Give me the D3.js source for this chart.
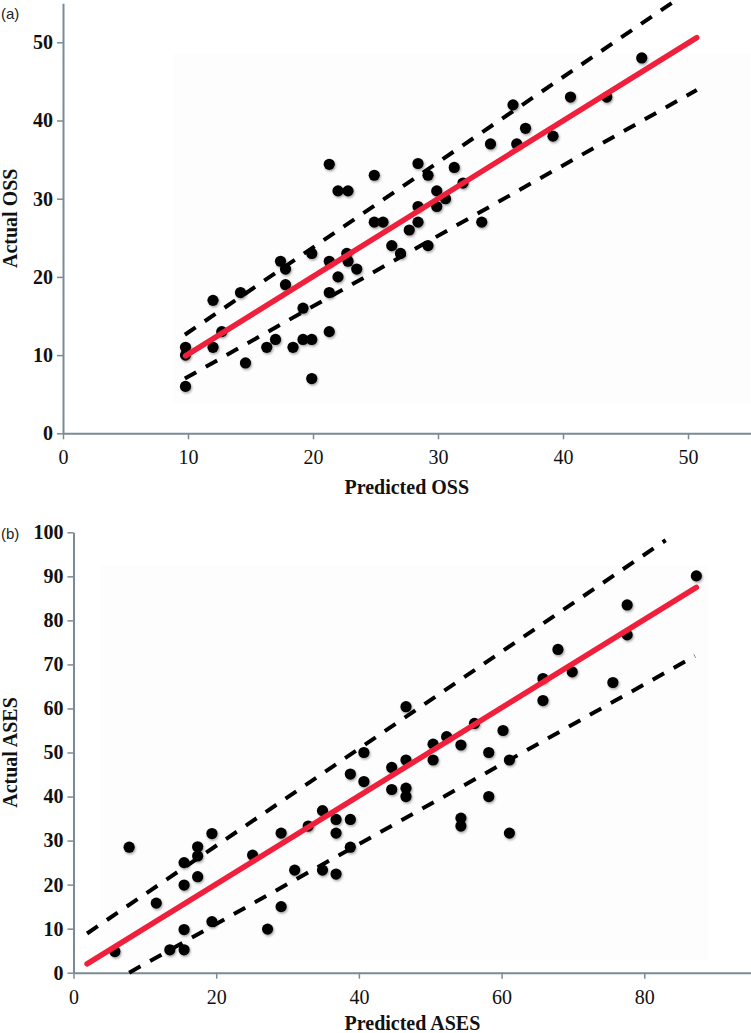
<!DOCTYPE html>
<html>
<head>
<meta charset="utf-8">
<script src="https://cdn.jsdelivr.net/npm/d3@7/dist/d3.min.js"></script>
<style>
  html, body { margin: 0; padding: 0; background: #ffffff; }
  svg { display: block; }
</style>
</head>
<body>
<svg id="chart" width="751" height="1033"></svg>
<script>
// ---------- Panel (a): OSS ----------
const ossPredicted = [9.8, 9.8, 9.8, 12.0, 12.0, 12.7, 14.2, 14.6, 16.3, 17.0, 17.4, 17.8, 17.8, 18.4, 19.2, 19.2, 19.9, 19.9, 19.9, 21.3, 21.3, 21.3, 21.3, 22.0, 22.0, 22.7, 22.8, 22.8, 23.5, 24.9, 24.9, 25.6, 26.3, 27.0, 27.7, 28.4, 28.4, 28.4, 29.2, 29.2, 29.9, 29.9, 30.6, 31.3, 32.0, 33.5, 34.2, 36.0, 36.3, 37.0, 39.2, 40.6, 43.5, 46.3];
const ossActual    = [11, 10, 6, 17, 11, 13, 18, 9, 11, 12, 22, 21, 19, 11, 16, 12, 12, 23, 7, 34.4, 22, 18, 13, 31, 20, 23, 31, 22, 21, 33, 27, 27, 24, 23, 26, 34.5, 29, 27, 33, 24, 31, 29, 30, 34, 32, 27, 37, 42, 37, 39, 38, 43, 43, 48];
const ossFit       = [[9.8, 9.9], [50.7, 50.6]];
const ossUpper     = [[9.75, 12.6], [50.7, 57.2]];
const ossLower     = [[9.75, 7.0], [50.7, 43.9]];
const ossXTicks    = [0, 10, 20, 30, 40, 50];
const ossYTicks    = [0, 10, 20, 30, 40, 50];

// ---------- Panel (b): ASES ----------
const asesPredicted = [5.8, 7.8, 11.6, 13.5, 15.5, 15.5, 15.5, 15.5, 17.4, 17.4, 17.4, 19.4, 19.4, 25.1, 27.2, 29.1, 29.1, 31.0, 32.9, 34.9, 34.9, 36.8, 36.8, 36.8, 38.8, 38.8, 38.8, 40.7, 40.7, 44.6, 44.6, 46.6, 46.6, 46.6, 46.6, 50.4, 50.4, 52.3, 54.3, 54.3, 54.3, 56.2, 58.2, 58.2, 60.2, 61.1, 61.1, 65.8, 65.8, 67.9, 69.9, 75.6, 77.6, 77.6, 87.3];
const asesActual    = [4.8, 28.5, 15.8, 5.2, 5.2, 9.8, 19.9, 25.0, 21.8, 28.6, 26.5, 31.6, 11.6, 26.7, 9.9, 15.0, 31.7, 23.3, 33.3, 36.8, 23.3, 34.8, 31.7, 22.4, 34.8, 28.5, 45.1, 43.4, 50.0, 46.6, 41.6, 60.4, 48.3, 41.9, 40.0, 51.9, 48.3, 53.6, 51.7, 35.1, 33.3, 56.6, 50.0, 40.0, 55.0, 48.3, 31.7, 66.8, 61.8, 73.4, 68.3, 65.9, 83.5, 76.7, 90.1];
const asesFit       = [[1.9, 2.0], [87.3, 87.5]];
const asesUpper     = [[1.9, 8.9], [83.0, 98.2]];
const asesLower     = [[7.8, 0.0], [87.1, 71.9]];
const asesXTicks    = [0, 20, 40, 60, 80];
const asesYTicks    = [0, 10, 20, 30, 40, 50, 60, 70, 80, 90, 100];

const svg = d3.select("#chart");
const AXIS_COLOR = "#7b8b95";
const RED = "#f0203c";

// drop shadow for dots
const defs = svg.append("defs");
const f = defs.append("filter").attr("id", "shadow").attr("x", "-50%").attr("y", "-50%").attr("width", "200%").attr("height", "200%");
f.append("feDropShadow").attr("dx", 1).attr("dy", 1.5).attr("stdDeviation", 1.2).attr("flood-color", "#000").attr("flood-opacity", 0.35);

function panel(opts) {
  const x = d3.scaleLinear().domain(opts.xDomain).range(opts.xRange);
  const y = d3.scaleLinear().domain(opts.yDomain).range(opts.yRange);
  const g = svg.append("g");

  // faint plot-area background
  g.append("rect")
    .attr("x", x(opts.bg[0])).attr("y", y(opts.bg[3]))
    .attr("width", x(opts.bg[1]) - x(opts.bg[0]))
    .attr("height", y(opts.bg[2]) - y(opts.bg[3]))
    .attr("fill", "#fdfdfd");

  // axes
  const xAxis = g.append("g")
    .attr("transform", `translate(0,${y(0)})`)
    .call(d3.axisBottom(x).tickValues(opts.xTicks).tickSize(6).tickSizeOuter(0).tickPadding(11));
  const yAxis = g.append("g")
    .attr("transform", `translate(${x(0)},0)`)
    .call(d3.axisLeft(y).tickValues(opts.yTicks).tickSize(6).tickSizeOuter(0).tickPadding(4));

  [xAxis, yAxis].forEach(a => {
    a.select(".domain").attr("stroke", AXIS_COLOR).attr("stroke-width", 2);
    a.selectAll(".tick line").attr("stroke", AXIS_COLOR).attr("stroke-width", 1.5);
    a.selectAll(".tick text").attr("fill", "#111").style("font-family", "'Liberation Serif', serif").style("font-size", "20px");
  });
  yAxis.selectAll(".tick text").style("font-weight", "bold");

  // axis titles
  g.append("text")
    .attr("x", (x.range()[0] + x.range()[1]) / 2)
    .attr("y", opts.xTitleY)
    .attr("text-anchor", "middle")
    .style("font-family", "'Liberation Serif', serif")
    .style("font-weight", "bold").style("font-size", "20px")
    .attr("fill", "#111")
    .text(opts.xTitle);
  g.append("text")
    .attr("transform", `translate(${opts.yTitleX},${(y.range()[0] + y.range()[1]) / 2}) rotate(-90)`)
    .attr("text-anchor", "middle")
    .style("font-family", "'Liberation Serif', serif")
    .style("font-weight", "bold").style("font-size", "20px")
    .attr("fill", "#111")
    .text(opts.yTitle);

  // panel letter
  g.append("text")
    .attr("x", 1).attr("y", opts.letterY)
    .style("font-family", "'Liberation Sans', Arial, sans-serif")
    .style("font-size", "15px").attr("fill", "#222")
    .text(opts.letter);

  const line = d3.line().x(d => x(d[0])).y(d => y(d[1]));

  // points
  const pts = opts.px.map((v, i) => [v, opts.py[i]]);
  g.append("g").selectAll("circle").data(pts).join("circle")
    .attr("cx", d => x(d[0])).attr("cy", d => y(d[1])).attr("r", 5.6)
    .attr("fill", "#000").attr("filter", "url(#shadow)");

  // prediction bands
  [opts.upper, opts.lower].forEach(b => {
    g.append("path").datum(b).attr("d", line)
      .attr("fill", "none").attr("stroke", "#000").attr("stroke-width", 4)
      .attr("stroke-dasharray", "13,11");
  });

  // fit line
  g.append("path").datum(opts.fit).attr("d", line)
    .attr("fill", "none").attr("stroke", RED).attr("stroke-width", 5.5)
    .attr("stroke-linecap", "round");
}

panel({
  xDomain: [0, 55], xRange: [63, 750.5],
  yDomain: [0, 55], yRange: [433.3, 3.2],
  bg: [8.8, 55, 3.8, 48.5],
  xTicks: ossXTicks, yTicks: ossYTicks,
  px: ossPredicted, py: ossActual,
  fit: ossFit, upper: ossUpper, lower: ossLower,
  xTitle: "Predicted OSS", xTitleY: 494,
  yTitle: "Actual OSS", yTitleX: 17,
  letter: "(a)", letterY: 19
});

panel({
  xDomain: [0, 95], xRange: [73.5, 751.3],
  yDomain: [0, 100], yRange: [972.7, 532.3],
  bg: [3.7, 89, 2.9, 92.5],
  xTicks: asesXTicks, yTicks: asesYTicks,
  px: asesPredicted, py: asesActual,
  fit: asesFit, upper: asesUpper, lower: asesLower,
  xTitle: "Predicted ASES", xTitleY: 1030,
  yTitle: "Actual ASES", yTitleX: 17,
  letter: "(b)", letterY: 539
});
</script>
</body>
</html>
